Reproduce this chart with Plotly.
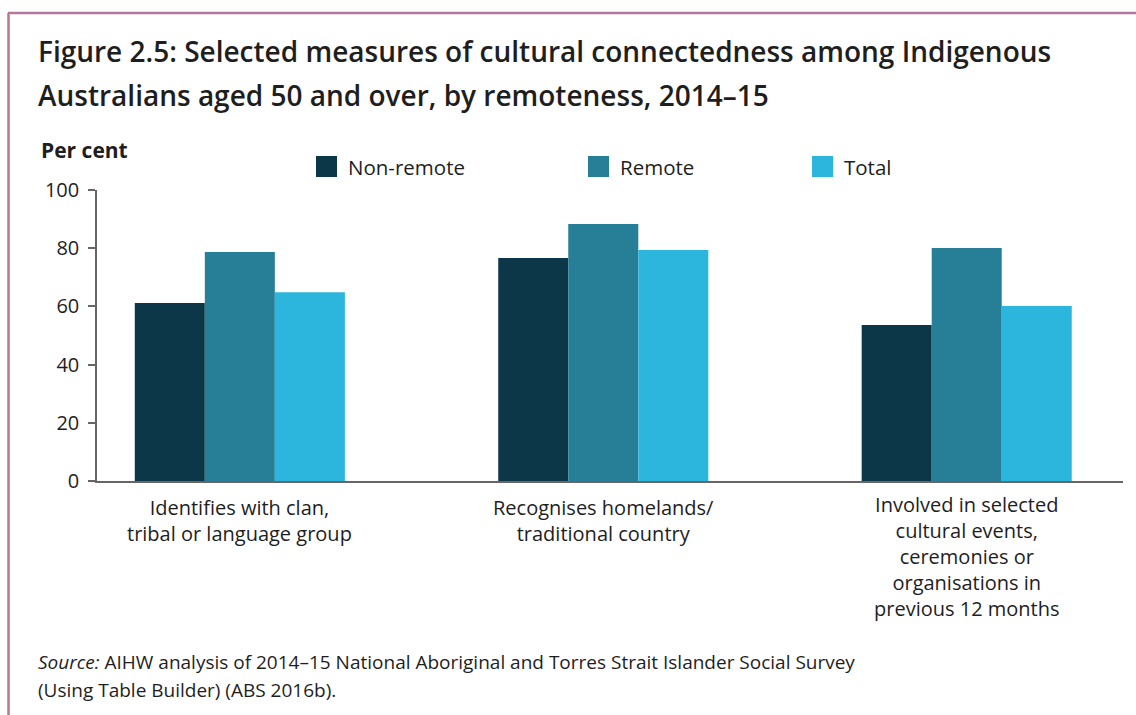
import plotly.graph_objects as go

# Survey measures (Indigenous Australians aged 50+, 2014–15), per cent
categories = [
    "Identifies with clan,<br>tribal or language group",
    "Recognises homelands/<br>traditional country",
    "Involved in selected<br>cultural events,<br>ceremonies or<br>organisations in<br>previous 12 months",
]
non_remote = [61.2, 76.6, 53.6]
remote = [78.7, 88.3, 80.1]
total = [64.9, 79.4, 60.1]

series_names = ["Non-remote", "Remote", "Total"]
series_colors = ["#0c3749", "#267f97", "#2cb5dd"]
y_ticks = [0, 20, 40, 60, 80, 100]

FONT = "Open Sans"
TEXT = "#1e1e1e"
W, H = 1136, 715
L, R, T, B = 97, 13, 190, 234
PW, PH = W - L - R, H - T - B


def px(x):
    return (x - L) / PW


def py(y):
    return (H - B - y) / PH


fig = go.Figure()
x_idx = list(range(len(categories)))
for name, vals, col in zip(series_names, [non_remote, remote, total], series_colors):
    fig.add_trace(go.Bar(x=x_idx, y=vals, name=name, marker=dict(color=col, line=dict(width=0)),
                         showlegend=False))

annotations = [
    dict(x=px(36), y=py(51), text="Figure 2.5: Selected measures of cultural connectedness among Indigenous",
         xanchor="left", yanchor="middle", font=dict(family=FONT, size=28, color=TEXT, weight=600)),
    dict(x=px(36), y=py(95), text="Australians aged 50 and over, by remoteness, 2014–15",
         xanchor="left", yanchor="middle", font=dict(family=FONT, size=28, color=TEXT, weight=600)),
    dict(x=px(39), y=py(150), text="<b>Per cent</b>", xanchor="left", yanchor="middle",
         font=dict(family=FONT, size=21, color=TEXT)),
    dict(x=px(36), y=py(662), text="<i>Source:</i> AIHW analysis of 2014–15 National Aboriginal and Torres Strait Islander Social Survey",
         xanchor="left", yanchor="middle", font=dict(family=FONT, size=19, color=TEXT)),
    dict(x=px(36), y=py(690), text="(Using Table Builder) (ABS 2016b).",
         xanchor="left", yanchor="middle", font=dict(family=FONT, size=19, color=TEXT)),
]

# category labels centred beneath each group
FIRST_LINE, LINE_GAP = 508, 24.2
for i, label in enumerate(categories):
    n_lines = label.count("<br>") + 1
    centre = FIRST_LINE + (n_lines - 1) * LINE_GAP / 2
    annotations.append(dict(x=i, xref="x", y=py(centre), yref="paper", text=label,
                            xanchor="center", yanchor="middle", align="center",
                            font=dict(family=FONT, size=20, color=TEXT)))

shapes = [
    # frame lines
    dict(type="line", xref="paper", yref="paper", x0=px(8), x1=px(1136), y0=py(13), y1=py(13),
         line=dict(color="#b5789a", width=2.5)),
    dict(type="line", xref="paper", yref="paper", x0=px(8.5), x1=px(8.5), y0=py(13), y1=py(715),
         line=dict(color="#b5789a", width=2.5)),
]

# legend swatches and labels
legend_x = [316, 588, 812]
for name, col, lx in zip(series_names, series_colors, legend_x):
    shapes.append(dict(type="rect", xref="paper", yref="paper", x0=px(lx), x1=px(lx + 21),
                       y0=py(156), y1=py(177), fillcolor=col, line=dict(width=0)))
    annotations.append(dict(x=px(lx + 30), y=py(167), text=name, xanchor="left", yanchor="middle",
                            font=dict(family=FONT, size=20.5, color=TEXT)))

for a in annotations:
    a.setdefault("xref", "paper")
    a.setdefault("yref", "paper")
    a["showarrow"] = False

fig.update_layout(
    width=W, height=H,
    margin=dict(l=L, r=R, t=T, b=B),
    paper_bgcolor="white", plot_bgcolor="white",
    barmode="group", bargap=0.422, bargroupgap=0,
    annotations=annotations, shapes=shapes,
    font=dict(family=FONT, size=20, color=TEXT),
    xaxis=dict(range=[-0.393, 2.43], tickmode="array", tickvals=x_idx, showticklabels=False,
               showline=True, linecolor="#666666", linewidth=1.5, ticks="", showgrid=False,
               zeroline=False, fixedrange=True),
    yaxis=dict(range=[0, 100], tickmode="array", tickvals=y_ticks, showline=True,
               linecolor="#666666", linewidth=1.5, ticks="outside", ticklen=7, tickwidth=1.5,
               tickcolor="#666666", showgrid=False, zeroline=False,
               tickfont=dict(family=FONT, size=20, color=TEXT), ticklabelstandoff=5,
               fixedrange=True),
)

fig.write_html("out.html", config={"displayModeBar": False})
